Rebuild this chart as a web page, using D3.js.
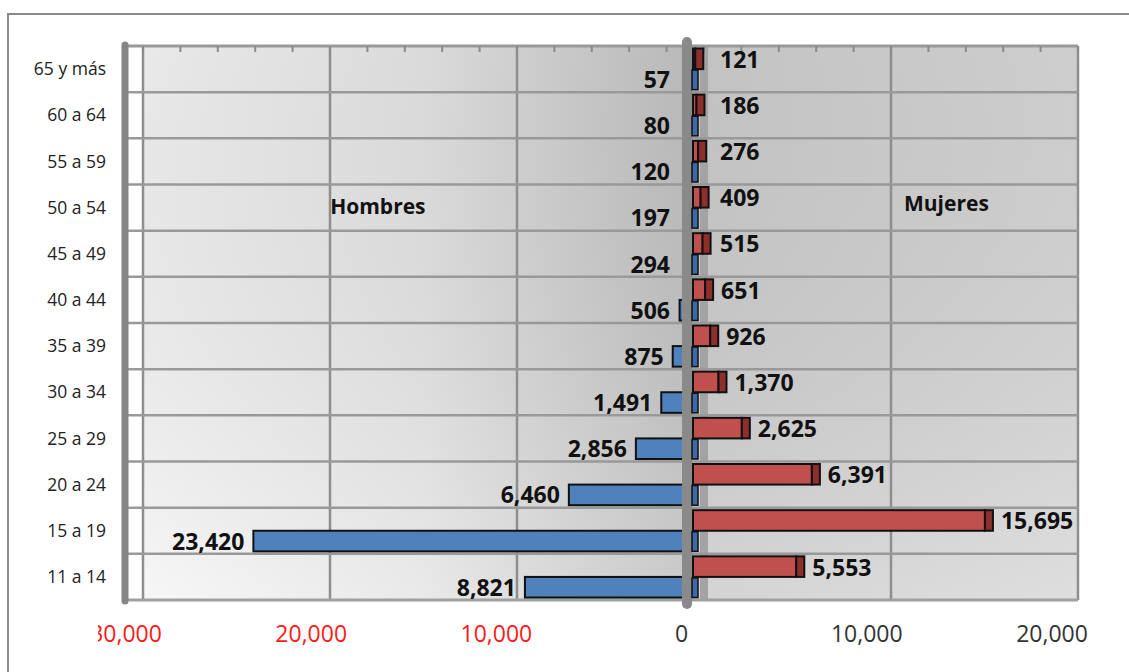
<!DOCTYPE html>
<html><head><meta charset="utf-8">
<script src="https://cdn.jsdelivr.net/npm/d3@7"></script>
<style>
html,body{margin:0;padding:0;background:#fff;}
svg{display:block;font-family:"Open Sans",sans-serif;}
</style></head>
<body>
<svg id="c" width="1129" height="672"></svg>
<script>
const categories = ["65 y más","60 a 64","55 a 59","50 a 54","45 a 49","40 a 44","35 a 39","30 a 34","25 a 29","20 a 24","15 a 19","11 a 14"];
const hombres = [57,80,120,197,294,506,875,1491,2856,6460,23420,8821];
const mujeres = [121,186,276,409,515,651,926,1370,2625,6391,15695,5553];
const tickValues = [-30000,-20000,-10000,0,10000,20000];
const minorTicks = d3.range(-30000, 20001, 2000);
const seriesNames = ["Hombres","Mujeres"];

(function(){
const svg = d3.select("#c");
const W = 1129, H = 672;

svg.append("rect").attr("x",8).attr("y",14).attr("width",W+20).attr("height",H+20)
  .attr("fill","#fff").attr("stroke","#8a8a8a").attr("stroke-width",2);

const y = d3.scaleBand(categories, [46, 600]);
const xGrid = d3.scaleLinear([-30000, 20000], [143, 1078]);
const xLabel = d3.scaleLinear([-30000, 20000], [126, 1052]);
const xBar = d3.scaleLinear([-30000, 20000], [131, 1061]);
const fmt = d3.format(",");

const defs = svg.append("defs");
const g1 = defs.append("linearGradient").attr("id","bg").attr("x1","0").attr("y1","0").attr("x2","1").attr("y2","0");
[[0,"#f5f5f5"],[0.3,"#e6e6e6"],[0.58,"#c3c3c3"],[0.585,"#cdcdcd"],[1,"#d9d9d9"]]
  .forEach(([o,c])=>g1.append("stop").attr("offset",o).attr("stop-color",c));
const g2 = defs.append("linearGradient").attr("id","bg2").attr("x1","0").attr("y1","0").attr("x2","0").attr("y2","1");
[[0,"#000",0.05],[1,"#fff",0.15]].forEach(([o,c,a])=>g2.append("stop").attr("offset",o).attr("stop-color",c).attr("stop-opacity",a));
defs.append("clipPath").attr("id","tickclip").append("rect").attr("x",98).attr("y",600).attr("width",1100).attr("height",72);

const pTop = y.range()[0], pBot = y.range()[1];
const gx0 = xGrid(-30000), gx1 = xGrid(20000);
svg.append("rect").attr("x",gx0).attr("y",pTop).attr("width",gx1-gx0).attr("height",pBot-pTop).attr("fill","url(#bg)");
svg.append("rect").attr("x",gx0).attr("y",pTop).attr("width",gx1-gx0).attr("height",pBot-pTop).attr("fill","url(#bg2)");

svg.append("g").selectAll("line").data(tickValues).join("line")
  .attr("x1",d=>xGrid(d)).attr("x2",d=>xGrid(d)).attr("y1",pTop).attr("y2",pBot)
  .attr("stroke",d=>d===0?"#a3a3a3":"#8e8e8e").attr("stroke-width",d=>d===0?8:2.5);
svg.append("g").selectAll("line").data(categories.slice(1)).join("line")
  .attr("x1",128).attr("x2",gx1).attr("y1",d=>y(d)).attr("y2",d=>y(d))
  .attr("stroke","#999").attr("stroke-width",2.5);
svg.append("line").attr("x1",128).attr("x2",gx1).attr("y1",pTop).attr("y2",pTop).attr("stroke","#999").attr("stroke-width",3);
svg.append("line").attr("x1",128).attr("x2",gx1).attr("y1",pBot).attr("y2",pBot).attr("stroke","#a0a0a0").attr("stroke-width",3);
svg.append("g").selectAll("line").data(minorTicks).join("line")
  .attr("x1",d=>xGrid(d)).attr("x2",d=>xGrid(d)).attr("y1",pTop).attr("y2",pTop+6)
  .attr("stroke","#8a8a8a").attr("stroke-width",2);
svg.append("line").attr("x1",125).attr("x2",125).attr("y1",pTop-1).attr("y2",pBot+1)
  .attr("stroke","#858585").attr("stroke-width",7).attr("stroke-linecap","round");

const half = y.bandwidth()/2;
const x0 = xBar(0);
const redOff = 4;
const segW = 8;

svg.append("g").selectAll("rect").data(hombres).join("rect")
  .attr("x",d=>xBar(-d)).attr("width",d=>x0-xBar(-d))
  .attr("y",(d,i)=>y(categories[i])+half).attr("height",half-2.5)
  .attr("fill","#4f81bd").attr("stroke","#111").attr("stroke-width",2);

svg.append("g").selectAll("rect").data(mujeres).join("rect")
  .attr("x",x0+redOff).attr("width",d=>xBar(d)-x0)
  .attr("y",(d,i)=>y(categories[i])+2.5).attr("height",half-2.5)
  .attr("fill","#c0504d").attr("stroke","#111").attr("stroke-width",2);
svg.append("g").selectAll("rect").data(mujeres).join("rect")
  .attr("x",d=>xBar(d)+redOff).attr("width",segW)
  .attr("y",(d,i)=>y(categories[i])+2.5).attr("height",half-2.5)
  .attr("fill","#8c2f2d").attr("stroke","#111").attr("stroke-width",2);

svg.append("line").attr("x1",x0-2).attr("x2",x0-2).attr("y1",pTop-4).attr("y2",pBot+4)
  .attr("stroke","#8a8a8a").attr("stroke-width",10).attr("stroke-linecap","round");

svg.append("g").selectAll("rect").data(categories).join("rect")
  .attr("x",x0+3).attr("width",6)
  .attr("y",d=>y(d)+half+1).attr("height",half-3.5)
  .attr("fill","#3d6aa6").attr("stroke","#111").attr("stroke-width",1.5);

svg.append("g").selectAll("text").data(categories).join("text")
  .attr("x",106).attr("y",d=>y(d)+half).attr("dy","0.35em").attr("text-anchor","end")
  .attr("font-size",17.5).attr("fill","#222").text(d=>d);

svg.append("g").selectAll("text").data(hombres).join("text")
  .attr("x",d=>Math.min(xBar(-d)-9, 670)).attr("y",(d,i)=>y(categories[i])+half*1.5-1).attr("dy","0.36em")
  .attr("text-anchor","end").attr("font-size",23).attr("font-weight","bold").attr("fill","#111").text(d=>fmt(d));
svg.append("g").selectAll("text").data(mujeres).join("text")
  .attr("x",d=>Math.max(xBar(d)+redOff+segW+8, 720)).attr("y",(d,i)=>y(categories[i])+half*0.5+2).attr("dy","0.36em")
  .attr("text-anchor","start").attr("font-size",23).attr("font-weight","bold").attr("fill","#111").text(d=>fmt(d));

svg.append("text").attr("x",xLabel(-16400)).attr("y",y("50 a 54")+half-1).attr("dy","0.35em")
  .attr("text-anchor","middle").attr("font-size",21).attr("font-weight","bold").attr("fill","#111").text(seriesNames[0]);
svg.append("text").attr("x",xLabel(14300)).attr("y",y("50 a 54")+half-4).attr("dy","0.35em")
  .attr("text-anchor","middle").attr("font-size",21).attr("font-weight","bold").attr("fill","#111").text(seriesNames[1]);

svg.append("g").attr("clip-path","url(#tickclip)").selectAll("text").data(tickValues).join("text")
  .attr("x",d=>xLabel(d)).attr("y",634).attr("dy","0.35em").attr("text-anchor","middle")
  .attr("font-size",23).attr("fill",d=>d<0?"#ff1a1a":"#333").text(d=>fmt(Math.abs(d)));
})();
</script>
</body></html>
